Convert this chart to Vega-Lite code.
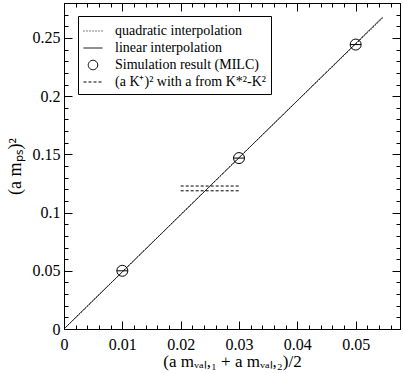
{
  "$schema": "https://vega.github.io/schema/vega-lite/v6.json",
  "width": 336,
  "height": 326,
  "autosize": "none",
  "padding": {"left": 64, "top": 3, "right": 3, "bottom": 44},
  "config": {
    "view": {"stroke": "black", "strokeWidth": 1},
    "font": "Liberation Serif",
    "axis": {
      "domainColor": "black", "tickColor": "black", "labelColor": "black", "titleColor": "black",
      "labelFont": "Liberation Serif", "titleFont": "Liberation Serif",
      "labelFontSize": 16, "titleFontSize": 17, "titleFontWeight": "normal", "grid": false
    }
  },
  "datasets": {
    "lines": [
      {"series": "quadratic interpolation", "seg": "q", "x": 0, "y": 0},
      {"series": "quadratic interpolation", "seg": "q", "x": 0.01, "y": 0.0492},
      {"series": "quadratic interpolation", "seg": "q", "x": 0.02, "y": 0.0983},
      {"series": "quadratic interpolation", "seg": "q", "x": 0.03, "y": 0.1472},
      {"series": "quadratic interpolation", "seg": "q", "x": 0.04, "y": 0.196},
      {"series": "quadratic interpolation", "seg": "q", "x": 0.05, "y": 0.2446},
      {"series": "quadratic interpolation", "seg": "q", "x": 0.0546, "y": 0.2668},
      {"series": "linear interpolation", "seg": "l", "x": 0, "y": 0},
      {"series": "linear interpolation", "seg": "l", "x": 0.0546, "y": 0.2677},
      {"series": "(a K⁺)² with a from K*²-K²", "seg": "a", "x": 0.02, "y": 0.1228},
      {"series": "(a K⁺)² with a from K*²-K²", "seg": "a", "x": 0.03, "y": 0.1228},
      {"series": "(a K⁺)² with a from K*²-K²", "seg": "b", "x": 0.02, "y": 0.1187},
      {"series": "(a K⁺)² with a from K*²-K²", "seg": "b", "x": 0.03, "y": 0.1187}
    ],
    "sims": [
      {"series": "Simulation result (MILC)", "x": 0.01, "y": 0.05},
      {"series": "Simulation result (MILC)", "x": 0.03, "y": 0.1468},
      {"series": "Simulation result (MILC)", "x": 0.05, "y": 0.2443}
    ]
  },
  "layer": [
    {
      "data": {"name": "lines"},
      "mark": {"type": "line", "color": "black", "strokeWidth": 1},
      "encoding": {
        "x": {
          "field": "x", "type": "quantitative",
          "scale": {"domain": [0, 0.0576], "nice": false, "zero": false},
          "axis": {
            "orient": "bottom",
            "title": "(a mᵥₐₗ,₁ + a mᵥₐₗ,₂)/2",
            "values": [0, 0.002, 0.004, 0.006, 0.008, 0.01, 0.012, 0.014, 0.016, 0.018, 0.02, 0.022, 0.024, 0.026, 0.028, 0.03, 0.032, 0.034, 0.036, 0.038, 0.04, 0.042, 0.044, 0.046, 0.048, 0.05, 0.052, 0.054, 0.056],
            "labelExpr": "abs(datum.value*100 - round(datum.value*100)) < 1e-6 ? format(datum.value, '.2~f') : ''",
            "tickSize": {"condition": {"test": "abs(datum.value*100 - round(datum.value*100)) < 1e-6", "value": -8}, "value": -4},
            "labelPadding": 15,
            "titlePadding": 1,
            "labelFlush": false
          }
        },
        "y": {
          "field": "y", "type": "quantitative",
          "scale": {"domain": [0, 0.28], "nice": false, "zero": false},
          "axis": {
            "orient": "left",
            "title": "(a mₚₛ)²",
            "titleFontSize": 18,
            "values": [0, 0.01, 0.02, 0.03, 0.04, 0.05, 0.06, 0.07, 0.08, 0.09, 0.1, 0.11, 0.12, 0.13, 0.14, 0.15, 0.16, 0.17, 0.18, 0.19, 0.2, 0.21, 0.22, 0.23, 0.24, 0.25, 0.26, 0.27, 0.28],
            "labelExpr": "abs(datum.value*20 - round(datum.value*20)) < 1e-6 && datum.value < 0.27 ? format(datum.value, '.2~f') : ''",
            "tickSize": {"condition": {"test": "abs(datum.value*20 - round(datum.value*20)) < 1e-6", "value": -8}, "value": -4},
            "labelPadding": 12,
            "titlePadding": 8,
            "labelFlush": false
          }
        },
        "detail": {"field": "seg"},
        "strokeDash": {
          "field": "series", "type": "nominal",
          "scale": {
            "domain": ["quadratic interpolation", "linear interpolation", "Simulation result (MILC)", "(a K⁺)² with a from K*²-K²"],
            "range": [[1, 2], [1, 0], [1, 0], [3, 2]]
          },
          "legend": {
            "title": null, "orient": "none", "legendX": 14, "legendY": 13,
            "strokeColor": "black", "padding": 5, "labelFont": "Liberation Serif", "labelFontSize": 14,
            "labelLimit": 400, "symbolSize": 361, "symbolStrokeColor": "black", "symbolFillColor": "transparent",
            "symbolStrokeWidth": 1, "labelOffset": 12, "rowPadding": 0, "labelColor": "black"
          }
        }
      }
    },
    {
      "data": {"name": "sims"},
      "mark": {"type": "point", "filled": false, "color": "black", "strokeWidth": 1, "size": 484, "opacity": 1},
      "encoding": {
        "x": {"field": "x", "type": "quantitative", "axis": null},
        "y": {"field": "y", "type": "quantitative", "axis": null},
        "shape": {
          "field": "series", "type": "nominal",
          "scale": {
            "domain": ["quadratic interpolation", "linear interpolation", "Simulation result (MILC)", "(a K⁺)² with a from K*²-K²"],
            "range": ["stroke", "stroke", "M0.5,0A0.5,0.5 0 1,1 -0.5,0A0.5,0.5 0 1,1 0.5,0Z", "stroke"]
          },
          "legend": {
            "title": null, "orient": "none", "legendX": 14, "legendY": 13,
            "strokeColor": "black", "padding": 5, "labelFont": "Liberation Serif", "labelFontSize": 14,
            "labelLimit": 400, "symbolSize": 361, "symbolStrokeColor": "black", "symbolFillColor": "transparent",
            "symbolStrokeWidth": 1, "labelOffset": 12, "rowPadding": 0, "labelColor": "black"
          }
        }
      }
    },
    {
      "data": {"name": "sims"},
      "mark": {"type": "tick", "orient": "horizontal", "size": 11, "thickness": 1, "color": "black", "opacity": 1},
      "encoding": {
        "x": {
          "field": "x", "type": "quantitative",
          "axis": {
            "orient": "top", "title": null, "labels": false, "domain": false,
            "values": [0, 0.002, 0.004, 0.006, 0.008, 0.01, 0.012, 0.014, 0.016, 0.018, 0.02, 0.022, 0.024, 0.026, 0.028, 0.03, 0.032, 0.034, 0.036, 0.038, 0.04, 0.042, 0.044, 0.046, 0.048, 0.05, 0.052, 0.054, 0.056],
            "tickSize": {"condition": {"test": "abs(datum.value*100 - round(datum.value*100)) < 1e-6", "value": -8}, "value": -4}
          }
        },
        "y": {
          "field": "y", "type": "quantitative",
          "axis": {
            "orient": "right", "title": null, "labels": false, "domain": false,
            "values": [0, 0.01, 0.02, 0.03, 0.04, 0.05, 0.06, 0.07, 0.08, 0.09, 0.1, 0.11, 0.12, 0.13, 0.14, 0.15, 0.16, 0.17, 0.18, 0.19, 0.2, 0.21, 0.22, 0.23, 0.24, 0.25, 0.26, 0.27, 0.28],
            "tickSize": {"condition": {"test": "abs(datum.value*20 - round(datum.value*20)) < 1e-6", "value": -8}, "value": -4}
          }
        }
      }
    }
  ],
  "resolve": {"axis": {"x": "independent", "y": "independent"}}
}
